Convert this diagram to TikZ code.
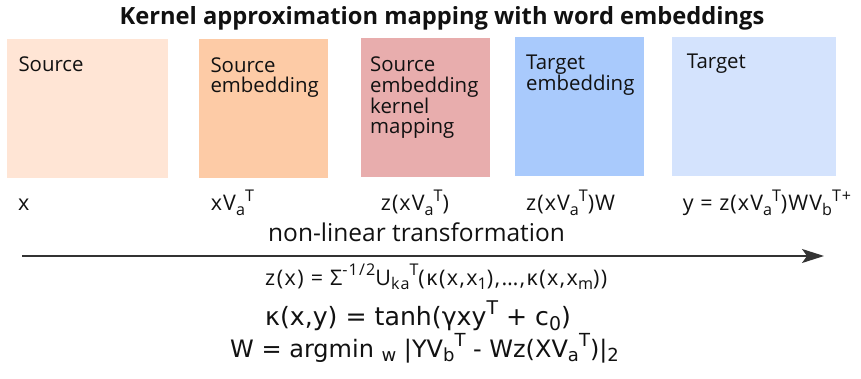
\documentclass[tikz,border=0pt]{standalone}
\usepackage{fontspec}
\setmainfont{Open Sans}
\newfontfamily\dejavu{DejaVu Sans}
\newfontfamily\openls[LetterSpace=5]{Open Sans}
\newfontfamily\openwide[LetterSpace=7]{Open Sans}
\usetikzlibrary{arrows.meta}
\definecolor{cA}{HTML}{FFE5D5}
\definecolor{cB}{HTML}{FDCBA6}
\definecolor{cC}{HTML}{E8ADAD}
\definecolor{cD}{HTML}{A9CAFC}
\definecolor{cE}{HTML}{D4E3FD}
\definecolor{ink}{HTML}{111111}
\definecolor{arrowc}{HTML}{333333}
\makeatletter
\newcommand{\sps}[1]{\raisebox{0.42em}{\fontsize{\fpeval{0.75*\f@size}}{0}\selectfont #1}}
\newcommand{\sbs}[1]{\raisebox{-0.2em}{\fontsize{\fpeval{0.75*\f@size}}{0}\selectfont #1}}
\makeatother
\tikzset{
  panel/.style={draw=none, inner sep=0pt, anchor=north west},
  paneltext/.style={inner sep=0pt, anchor=north west, align=left, text=ink,
    font=\fontsize{20.4}{20.7}\selectfont},
  lbl/.style={inner sep=0pt, anchor=base west, text=ink, font=\openls\fontsize{21.5}{24}\selectfont},
  eqn/.style={inner sep=0pt, anchor=base west, text=ink},
  flow/.style={draw=arrowc, line width=1.6pt, -{Stealth[length=22pt,width=14pt,inset=5pt]}}
}
\begin{document}
\begin{tikzpicture}[x=1pt,y=-1pt]
\useasboundingbox (0,0) rectangle (861,379);
% title
\node[inner sep=0pt, anchor=base, text=ink, font=\fontsize{23.7}{26}\selectfont\bfseries] (title) at (442,25) {Kernel approximation mapping with word embeddings};
% panels
\node[panel, fill=cA, minimum width=161pt, minimum height=139pt] (p1) at (7,39) {};
\node[panel, fill=cB, minimum width=129pt, minimum height=139pt] (p2) at (199,39) {};
\node[panel, fill=cC, minimum width=129pt, minimum height=139pt] (p3) at (361,38) {};
\node[panel, fill=cD, minimum width=129pt, minimum height=139pt] (p4) at (515,37) {};
\node[panel, fill=cE, minimum width=164pt, minimum height=139pt] (p5) at (672,37) {};
% panel texts
\node[paneltext] (t1) at (18.3,57) {Source};
\node[paneltext] (t2) at (210.3,57.3) {Source\\embedding};
\node[paneltext] (t3) at (370,56.7) {Source\\embedding\\kernel\\mapping};
\node[paneltext] (t4) at (526,55) {Target\\embedding};
\node[paneltext] (t5) at (686.7,54) {Target};
% labels
\node[lbl] (l1) at (18,211) {x};
\node[lbl] (l2) at (210.7,211) {xV\sbs{a}\sps{T}};
\node[lbl] (l3) at (380.7,211) {z(xV\sbs{a}\sps{T})};
\node[lbl] (l4) at (526,211) {z(xV\sbs{a}\sps{T})W};
\node[lbl] (l5) at (682.7,211) {y = z(xV\sbs{a}\sps{T})WV\sbs{b}\sps{T+}};
% arrow
\node[eqn, font=\fontsize{24.5}{28}\selectfont] (nl) at (268,241) {non-linear transformation};
\coordinate (a0) at (22,256);
\coordinate (a1) at (824,256);
\draw[flow] (a0) -- (a1);
% equations
\node[eqn, font=\openwide\fontsize{21.5}{24}\selectfont] (e1) at (265,285) {z(x) = Σ\sps{-1/2}U\sbs{ka}\sps{T}(κ(x,x\sbs{1}),…,κ(x,x\sbs{m}))};
\node[eqn, font=\dejavu\fontsize{25.2}{28}\selectfont] (e2) at (265,325) {κ(x,y) = tanh(γxy\sps{T} + c\sbs{0})};
\node[eqn, font=\dejavu\fontsize{24}{28}\selectfont] (e3) at (230,357) {W = argmin \sbs{w} |YV\sbs{b}\sps{T} - Wz(XV\sbs{a}\sps{T})|\sbs{2}};
\end{tikzpicture}
\end{document}
